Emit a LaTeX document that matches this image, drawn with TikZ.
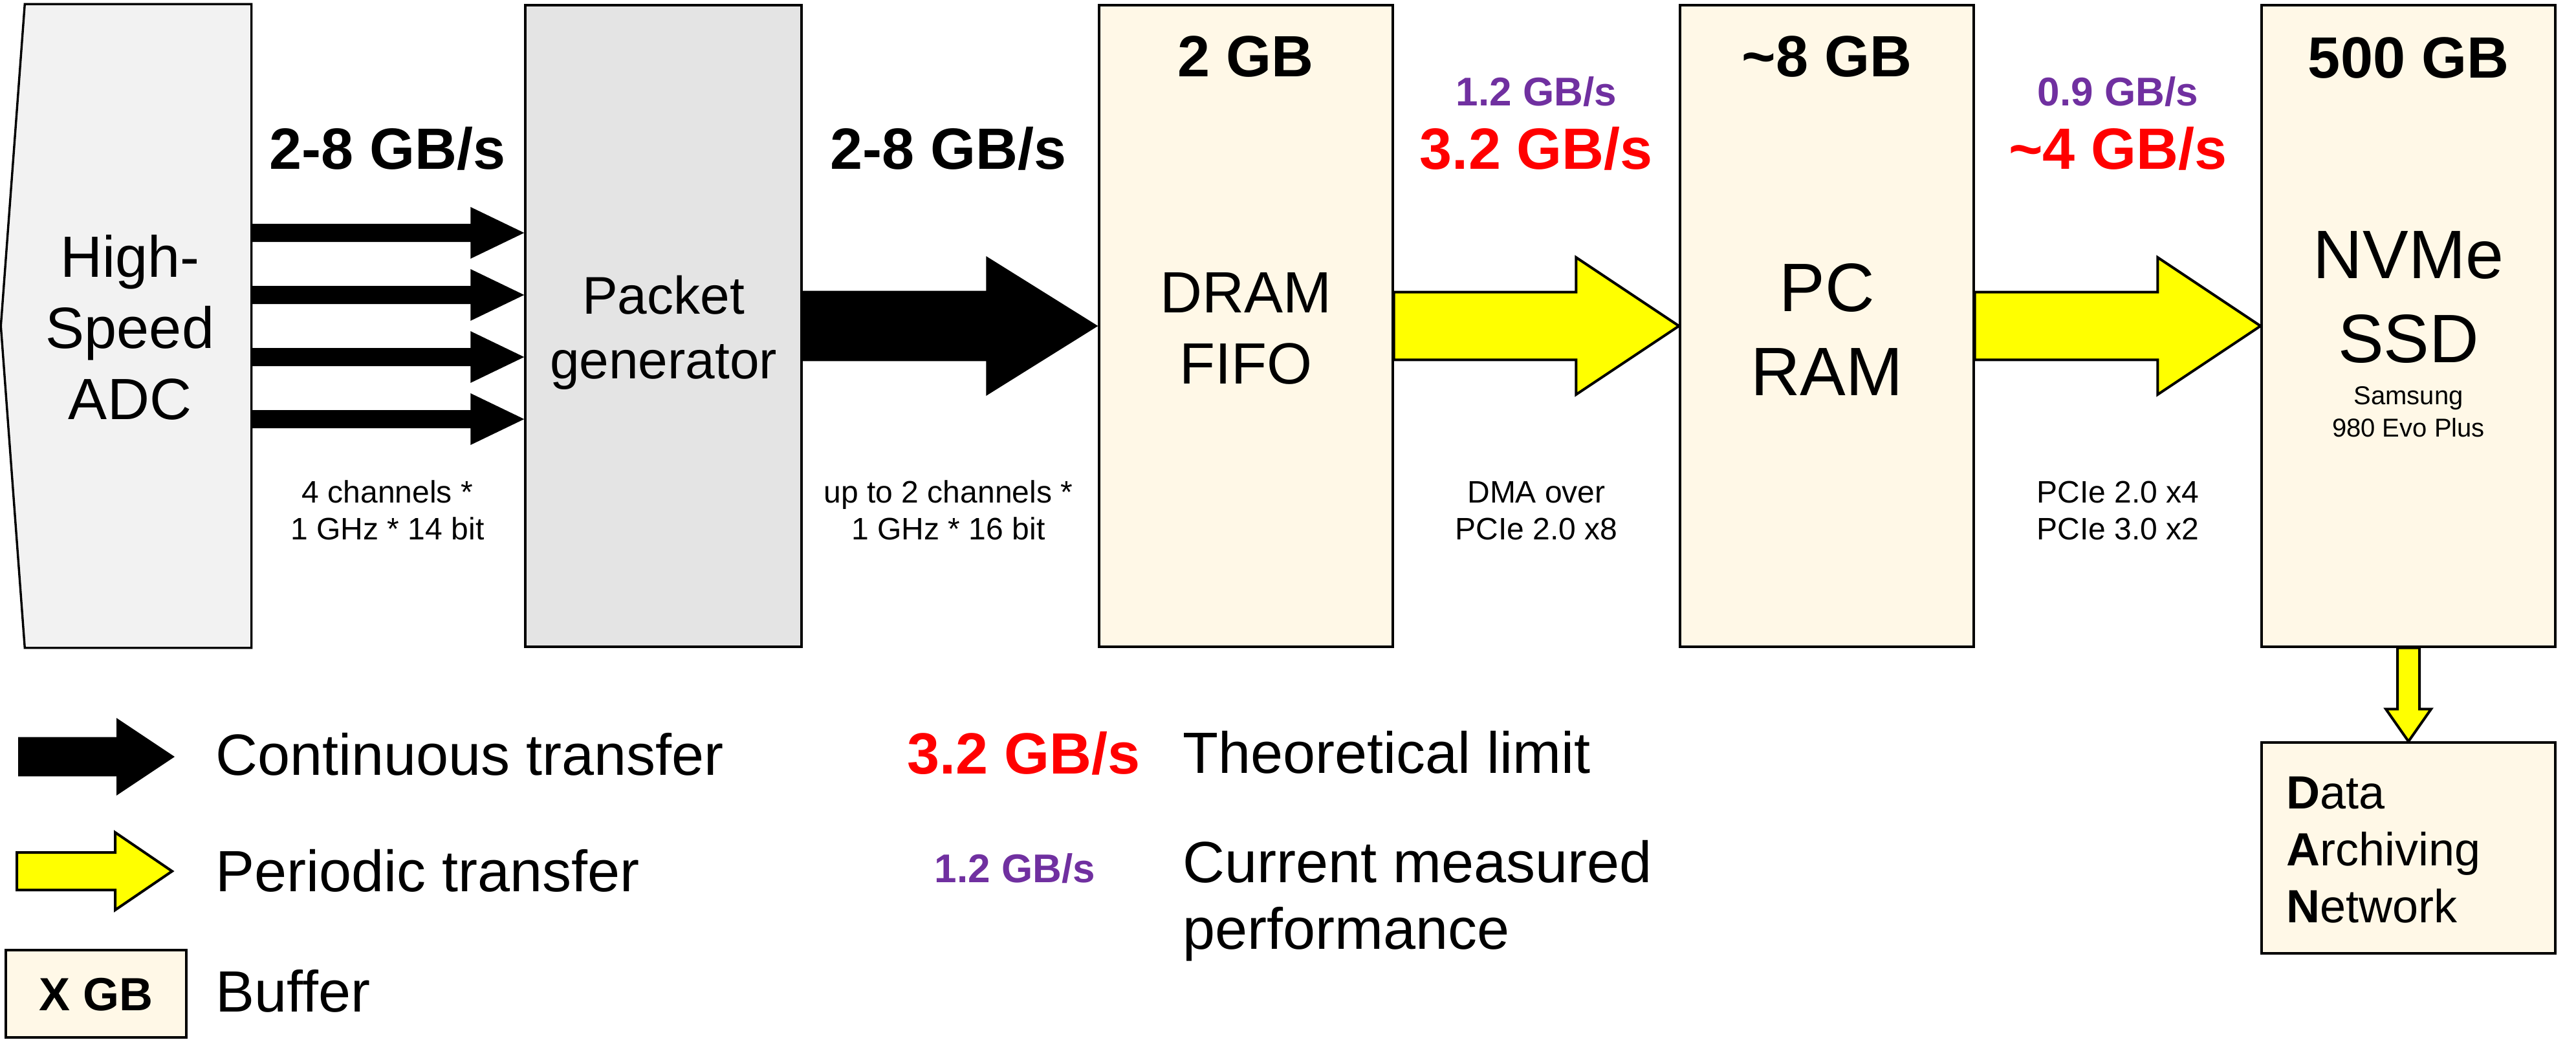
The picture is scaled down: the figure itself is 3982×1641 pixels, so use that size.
\documentclass[tikz,border=0pt]{standalone}
\usepackage{fontspec}
\setmainfont{Liberation Sans}
\usetikzlibrary{calc}

\definecolor{buffercream}{RGB}{255,248,231}
\definecolor{adcgray}{RGB}{242,242,242}
\definecolor{gengray}{RGB}{228,228,228}
\definecolor{measpurple}{RGB}{112,48,160}
\definecolor{limitred}{RGB}{255,0,0}
\definecolor{transyellow}{RGB}{255,255,0}

\newcommand{\ratefont}{\fontsize{22.5}{27}\selectfont\bfseries}
\newcommand{\labelfont}{\fontsize{22.5}{27.5}\selectfont}
\newcommand{\genfont}{\fontsize{20.5}{25}\selectfont}
\newcommand{\hostfont}{\fontsize{26.5}{32.5}\selectfont}
\newcommand{\notefont}{\fontsize{12}{14.25}\selectfont}
\newcommand{\measfont}{\fontsize{15.5}{18}\selectfont\bfseries}
\newcommand{\modelfont}{\fontsize{10}{12.5}\selectfont}
\newcommand{\danfont}{\fontsize{18}{22}\selectfont}
\newcommand{\legfont}{\fontsize{22.5}{25.75}\selectfont}

% block arrow: [style]{from}{to}{body half}{head half}{head length}
\newcommand{\flowarrow}[6][]{%
  \draw[#1] let \p1=(#2), \p2=(#3) in
    (\x1,\y1+#4) -- (\x2-#6,\y1+#4) -- (\x2-#6,\y1+#5) -- (\x2,\y1)
    -- (\x2-#6,\y1-#5) -- (\x2-#6,\y1-#4) -- (\x1,\y1-#4) -- cycle;}

\tikzset{every picture/.style={line width=0.85pt}}
\tikzset{
  blockbox/.style={draw, line width=0.85pt, inner sep=0pt, minimum height=248pt},
  bufferbox/.style={blockbox, fill=buffercream, minimum width=113.5pt},
  contarrow/.style={fill=black, draw=none},
  periarrow/.style={fill=transyellow, draw=black, line width=1pt, line join=miter},
  txt/.style={inner sep=0pt, anchor=base, align=center},
  ltxt/.style={inner sep=0pt, anchor=base west, align=left},
}

\begin{document}
\begin{tikzpicture}[x=0.25pt,y=0.25pt,yscale=-1,xscale=1]
\useasboundingbox (0,0) rectangle (3982,1641);

%Shape: ADC (pointed left side)
\node[inner sep=0pt, minimum width=86.75pt, minimum height=248pt] (adc) at (213.5,504) {};
\draw[fill=adcgray, line width=0.85pt] (adc.north west) -- (adc.north east) -- (adc.south east)
  -- (adc.south west) -- ([xshift=-9.25pt]adc.west) -- cycle;
%Shape: Rectangle
\node[blockbox, fill=gengray, minimum width=106.75pt] (gen) at (1025.5,504) {};
%Shape: Rectangle
\node[bufferbox] (dram) at (1926,504) {};
%Shape: Rectangle
\node[bufferbox] (pcram) at (2824,504) {};
%Shape: Rectangle
\node[bufferbox] (nvme) at (3723,504) {};
%Shape: Rectangle
\node[bufferbox, minimum height=81.5pt] (dan) at (3723,1311) {};
%Shape: Rectangle
\node[bufferbox, minimum width=69.75pt, minimum height=33.75pt] (legbuf) at (148.5,1536.5) {};

%Block Arrows
\foreach \dy in {36,12,-12,-36}{
  \flowarrow[contarrow]{[yshift=\dy pt]adc.east}{gen.west}{3.5pt}{10pt}{20.75pt}
}
\flowarrow[contarrow]{gen.east}{dram.west}{13.6pt}{27pt}{43.25pt}
\flowarrow[periarrow]{dram.east}{pcram.west}{13.1pt}{26.5pt}{39.75pt}
\flowarrow[periarrow]{pcram.east}{nvme.west}{13.1pt}{26.5pt}{39.75pt}
\draw[periarrow] let \p1=(nvme.south), \p2=(dan.north) in
  (\x1-4.25pt,\y1) -- (\x1-4.25pt,\y2-12.5pt) -- (\x1-8.75pt,\y2-12.5pt) -- (\x1,\y2)
  -- (\x1+8.75pt,\y2-12.5pt) -- (\x1+4.25pt,\y2-12.5pt) -- (\x1+4.25pt,\y1) -- cycle;

% Text Node
\draw (599,261) node [txt, font=\ratefont] (rateadc) {2-8 GB/s};
% Text Node
\draw (1466,261) node [txt, font=\ratefont] (rategen) {2-8 GB/s};
% Text Node
\draw (599,834) node [txt, font=\notefont] (noteadc) {4 channels *\\1 GHz * 14 bit};
% Text Node
\draw (1466,834) node [txt, font=\notefont] (notegen) {up to 2 channels *\\1 GHz * 16 bit};
% Text Node
\draw (201,648) node [txt, font=\labelfont] (adctext) {High-\\Speed\\ADC};
% Text Node
\draw (1025.5,585) node [txt, font=\genfont] (gentext) {Packet\\generator};
% Text Node
\draw (1926,593) node [txt, font=\labelfont] (dramtext) {DRAM\\FIFO};
% Text Node
\draw (1926,118) node [txt, font=\ratefont] (dramsize) {2 GB};
% Text Node
\draw (2824,611) node [txt, font=\hostfont] (pcramtext) {PC\\RAM};
% Text Node
\draw (2824,118) node [txt, font=\ratefont] (pcramsize) {\textasciitilde8 GB};
% Text Node
\draw (3723,560) node [txt, font=\hostfont] (nvmetext) {NVMe\\SSD};
% Text Node
\draw (3723,120) node [txt, font=\ratefont] (nvmesize) {500 GB};
% Text Node
\draw (3723,675) node [txt, font=\modelfont] (nvmemodel) {Samsung\\980 Evo Plus};
% Text Node
\draw (2375,163) node [txt, font=\measfont, text=measpurple] (measdram) {1.2 GB/s};
% Text Node
\draw (2375,261) node [txt, font=\ratefont, text=limitred] (limitdram) {3.2 GB/s};
% Text Node
\draw (2375,834) node [txt, font=\notefont] (notedram) {DMA over\\PCIe 2.0 x8};
% Text Node
\draw (3274,163) node [txt, font=\measfont, text=measpurple] (measpc) {0.9 GB/s};
% Text Node
\draw (3274,261) node [txt, font=\ratefont, text=limitred] (limitpc) {\textasciitilde4 GB/s};
% Text Node
\draw (3274,834) node [txt, font=\notefont] (notepc) {PCIe 2.0 x4\\PCIe 3.0 x2};
% Text Node
\draw (3533,1426) node [ltxt, font=\danfont] (dantext) {\textbf{D}ata\\\textbf{A}rchiving\\\textbf{N}etwork};

%Legend
\coordinate (contstart) at (28,1170);
\coordinate (contend) at (270,1170);
\flowarrow[contarrow]{contstart}{contend}{7.6pt}{15pt}{22.5pt}
\coordinate (peristart) at (26,1347);
\coordinate (periend) at (266,1347);
\flowarrow[periarrow]{peristart}{periend}{7.25pt}{15pt}{22pt}
% Text Node
\draw (332,1198) node [ltxt, font=\legfont] (contlabel) {Continuous transfer};
% Text Node
\draw (332,1378) node [ltxt, font=\legfont] (perilabel) {Periodic transfer};
% Text Node
\draw (332,1564) node [ltxt, font=\legfont] (buflabel) {Buffer};
% Text Node
\draw (148.5,1562) node [txt, font=\fontsize{18}{21}\selectfont\bfseries] (bufsize) {X GB};
% Text Node
\draw (1401,1196) node [ltxt, font=\ratefont, text=limitred] (limitkey) {3.2 GB/s};
% Text Node
\draw (1827,1195) node [ltxt, font=\legfont] (limitlabel) {Theoretical limit};
% Text Node
\draw (1443,1364) node [ltxt, font=\measfont, text=measpurple] (measkey) {1.2 GB/s};
% Text Node
\draw (1827,1467) node [ltxt, font=\legfont] (measlabel) {Current measured\\performance};
\end{tikzpicture}
\end{document}
